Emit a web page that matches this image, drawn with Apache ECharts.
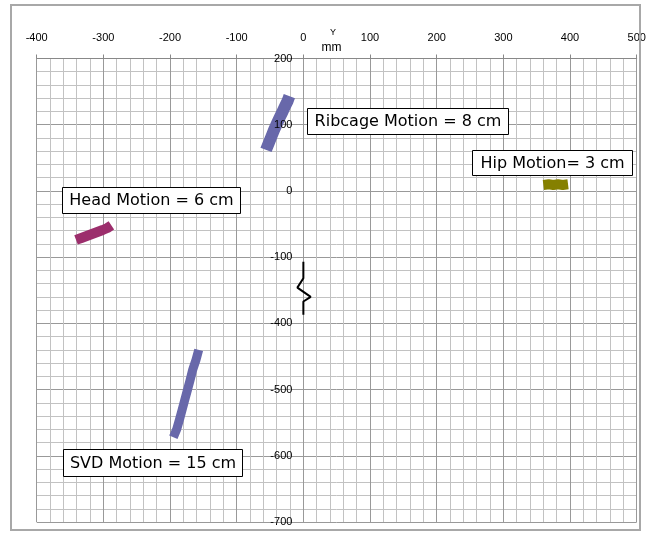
<!DOCTYPE html>
<html>
<head>
<meta charset="utf-8">
<script src="https://cdn.jsdelivr.net/npm/echarts@6/dist/echarts.min.js"></script>
<style>
html,body{margin:0;padding:0;background:#fff;}
#chart{width:653px;height:535px;}
</style>
</head>
<body>
<div id="chart"></div>
<script>
// ---- data (mm) ----
const xTicks = [-400, -300, -200, -100, 0, 100, 200, 300, 400, 500];
const yTickLabels = ['200', '100', '0', '-100', '-400', '-500', '-600', '-700'];
const ribcage = [[-56,62],[-52,72],[-48,82],[-44,92],[-40,101],[-36,110],[-32,118],[-28,127],[-24,135],[-21,143]];
const head = [[-341,-74],[-333,-71],[-325,-68],[-317,-65],[-309,-62],[-301,-59],[-294,-56],[-288,-52]];
const hip = [[360,9],[368,10],[375,9],[382,10],[389,9],[397,10]];
const svd = [[-157,-440],[-161,-455],[-166,-470],[-170,-486],[-174,-501],[-178,-516],[-182,-531],[-186,-546],[-190,-560],[-195,-572]];
const breakMark = [[0,-107],[0,-132],[-9,-146],[11,-160],[0,-167],[0,-187]]; // in broken-axis units
const labels = ['Ribcage Motion = 8 cm', 'Hip Motion= 3 cm', 'Head Motion = 6 cm', 'SVD Motion = 15 cm'];

// broken y axis: values -200..-300 are cut out (actual <= -400 shifted up by 200)
const yGap = 200;
function toAxis(p){ return [p[0], p[1] <= -400 ? p[1] + yGap : p[1]]; }

const xMin = -400, xMax = 500, yMin = -500, yMax = 200;
const gridLeft = 36.7, gridTop = 58.5, gridW = 600, gridH = 463.5;
const yLabelOffset = -(0 - xMin) / (xMax - xMin) * gridW;

const chart = echarts.init(document.getElementById('chart'), null, {renderer:'canvas'});

const majorLine = {color:'#999', width:1};
const minorLine = {color:'#c2c2c2', width:1};

function box(x, y, w, h, text){
  return {
    type:'group', left:x, top:y, z:100,
    children:[
      {type:'rect', z:100, shape:{x:0.5, y:0.5, width:w, height:h}, style:{fill:'#fff', stroke:'#000', lineWidth:1}},
      {type:'text', z:101, x:w/2+0.5, y:h/2+1, style:{text:text, font:'16px "DejaVu Sans"', fill:'#000', align:'center', verticalAlign:'middle'}}
    ]
  };
}

chart.setOption({
  animation:false,
  backgroundColor:'#fff',
  grid:{left:gridLeft, top:gridTop, width:gridW, height:gridH, outerBoundsMode:'none', containLabel:false},
  xAxis:{
    type:'value', position:'top', min:xMin, max:xMax, interval:100,
    axisLine:{show:true, onZero:false, lineStyle:{color:'#888', width:1}},
    axisTick:{show:true, inside:false, length:4, lineStyle:{color:'#888'}},
    axisLabel:{show:true, margin:15, color:'#000', fontSize:11, fontFamily:'Liberation Sans',
      formatter:function(v){ return xTicks.indexOf(v) >= 0 ? String(v) : ''; }},
    splitLine:{show:true, lineStyle:majorLine},
    minorTick:{show:false, splitNumber:5},
    minorSplitLine:{show:true, lineStyle:minorLine}
  },
  yAxis:[
    {
      type:'value', min:yMin, max:yMax, interval:100,
      axisLine:{show:false}, axisTick:{show:false}, axisLabel:{show:false},
      splitLine:{show:true, lineStyle:majorLine},
      minorTick:{show:false, splitNumber:5},
      minorSplitLine:{show:true, lineStyle:minorLine}
    },
    {
      type:'value', min:yMin, max:yMax, interval:100, position:'left', offset:yLabelOffset, z:10,
      axisLine:{show:false, onZero:false}, axisTick:{show:false}, splitLine:{show:false},
      axisLabel:{show:true, margin:11, color:'#000', fontSize:11, fontFamily:'Liberation Sans',
        formatter:function(v){ const i = Math.round((yMax - v)/100); return yTickLabels[i] || ''; }}
    }
  ],
  series:[
    {type:'line', name:'Ribcage', data:ribcage.map(toAxis), showSymbol:false, symbol:'none', z:3,
      lineStyle:{color:'#6868aa', width:12, cap:'butt', join:'round'}},
    {type:'line', name:'Head', data:head.map(toAxis), showSymbol:false, symbol:'none', z:3,
      lineStyle:{color:'#9c2e6c', width:10, cap:'butt', join:'round'}},
    {type:'line', name:'Hip', data:hip.map(toAxis), showSymbol:false, symbol:'none', z:3,
      lineStyle:{color:'#858000', width:10, cap:'butt', join:'round'}},
    {type:'line', name:'SVD', data:svd.map(toAxis), showSymbol:false, symbol:'none', z:3,
      lineStyle:{color:'#6868aa', width:9, cap:'butt', join:'round'}},
    {type:'line', name:'break', data:breakMark, showSymbol:false, symbol:'none', z:4,
      lineStyle:{color:'#000', width:2}}
  ],
  graphic:[
    {type:'rect', z:100, shape:{x:11, y:5, width:629, height:525}, style:{fill:null, stroke:'#a8a8a8', lineWidth:2}},
    {type:'text', z:100, x:333, y:33, style:{text:'Y', font:'9px "Liberation Sans"', fill:'#000', align:'center', verticalAlign:'middle'}},
    {type:'text', z:100, x:331.5, y:48, style:{text:'mm', font:'12px "Liberation Sans"', fill:'#000', align:'center', verticalAlign:'middle'}},
    box(307, 108, 201, 26, labels[0]),
    box(472, 150, 160, 25, labels[1]),
    box(62, 187, 178, 26, labels[2]),
    box(63, 449, 179, 27, labels[3])
  ]
});
</script>
</body>
</html>
